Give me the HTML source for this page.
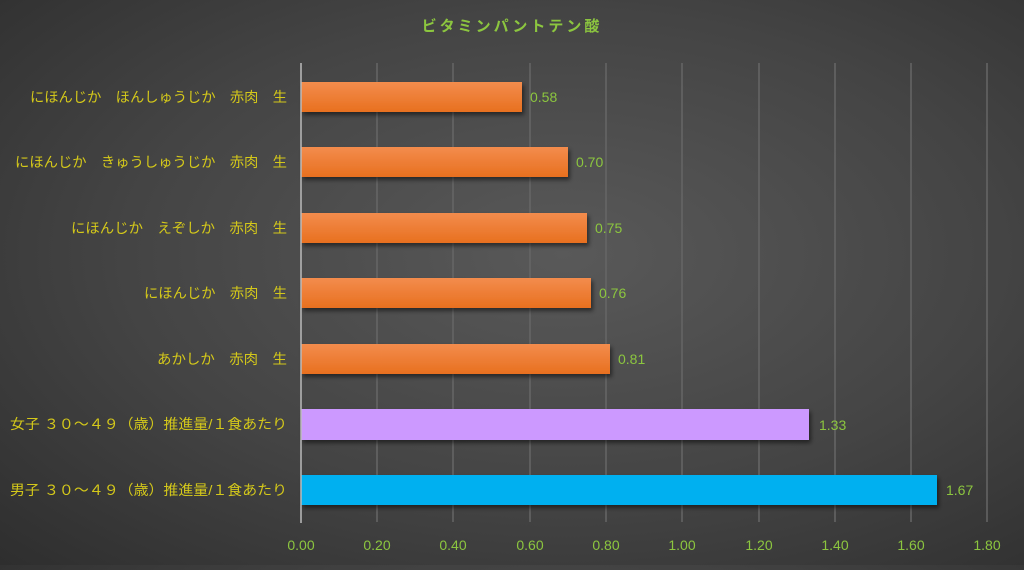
<!DOCTYPE html>
<html><head><meta charset="utf-8"><style>
body{margin:0;width:1024px;height:565px;overflow:hidden;background:radial-gradient(ellipse at 55% 45%,#595959 0%,#444 55%,#2e2e2e 100%);font-family:"Liberation Sans","Noto Sans CJK JP",sans-serif;}
svg text{font-family:"Liberation Sans","Noto Sans CJK JP",sans-serif;}
</style></head><body>
<svg width="1024" height="565" xmlns="http://www.w3.org/2000/svg">
<defs>
<linearGradient id="og" x1="0" y1="0" x2="0" y2="1"><stop offset="0" stop-color="#f38c4d"/><stop offset="1" stop-color="#e8701f"/></linearGradient>
<filter id="sh" x="-5%" y="-20%" width="110%" height="150%"><feDropShadow dx="2" dy="3" stdDeviation="2" flood-color="#000" flood-opacity="0.5"/></filter>
</defs>
<text x="512" y="31" text-anchor="middle" fill="#8cc63f" font-size="15" font-weight="bold" letter-spacing="3">ビタミンパントテン酸</text>
<g stroke="#666" stroke-width="1.5">
<line x1="377" y1="63" x2="377" y2="522"/><line x1="453" y1="63" x2="453" y2="522"/><line x1="530" y1="63" x2="530" y2="522"/><line x1="606" y1="63" x2="606" y2="522"/><line x1="682" y1="63" x2="682" y2="522"/><line x1="759" y1="63" x2="759" y2="522"/><line x1="835" y1="63" x2="835" y2="522"/><line x1="911" y1="63" x2="911" y2="522"/><line x1="987" y1="63" x2="987" y2="522"/>
</g>
<g filter="url(#sh)">
<rect x="301" y="82" width="221" height="30" fill="url(#og)"/>
<rect x="301" y="147" width="267" height="30" fill="url(#og)"/>
<rect x="301" y="213" width="286" height="30" fill="url(#og)"/>
<rect x="301" y="278" width="290" height="30" fill="url(#og)"/>
<rect x="301" y="344" width="309" height="30" fill="url(#og)"/>
<rect x="301" y="409" width="508" height="31" fill="#cc99ff"/>
<rect x="301" y="475" width="636" height="30" fill="#00b0f0"/>
</g>
<line x1="301" y1="63" x2="301" y2="523" stroke="#bbb" stroke-width="1.5"/>
<g fill="#8cc63f" font-size="14">
<text x="530" y="102">0.58</text><text x="576" y="167">0.70</text><text x="595" y="233">0.75</text><text x="599" y="298">0.76</text><text x="618" y="364">0.81</text><text x="819" y="430">1.33</text><text x="946" y="495">1.67</text>
</g>
<g fill="#8cc63f" font-size="14" text-anchor="middle">
<text x="301" y="550">0.00</text><text x="377" y="550">0.20</text><text x="453" y="550">0.40</text><text x="530" y="550">0.60</text><text x="606" y="550">0.80</text><text x="682" y="550">1.00</text><text x="759" y="550">1.20</text><text x="835" y="550">1.40</text><text x="911" y="550">1.60</text><text x="987" y="550">1.80</text>
</g>
<g fill="#d4c81a" font-size="14" text-anchor="end">
<text x="287" y="102" textLength="257" lengthAdjust="spacingAndGlyphs">にほんじか　ほんしゅうじか　赤肉　生</text>
<text x="287" y="167" textLength="272" lengthAdjust="spacingAndGlyphs">にほんじか　きゅうしゅうじか　赤肉　生</text>
<text x="287" y="233" textLength="216" lengthAdjust="spacingAndGlyphs">にほんじか　えぞしか　赤肉　生</text>
<text x="287" y="298" textLength="143" lengthAdjust="spacingAndGlyphs">にほんじか　赤肉　生</text>
<text x="287" y="364" textLength="130" lengthAdjust="spacingAndGlyphs">あかしか　赤肉　生</text>
<text x="287" y="429" textLength="277" lengthAdjust="spacingAndGlyphs">女子 ３０～４９（歳）推進量/１食あたり</text>
<text x="287" y="495" textLength="277" lengthAdjust="spacingAndGlyphs">男子 ３０～４９（歳）推進量/１食あたり</text>
</g>
</svg>
</body></html>
